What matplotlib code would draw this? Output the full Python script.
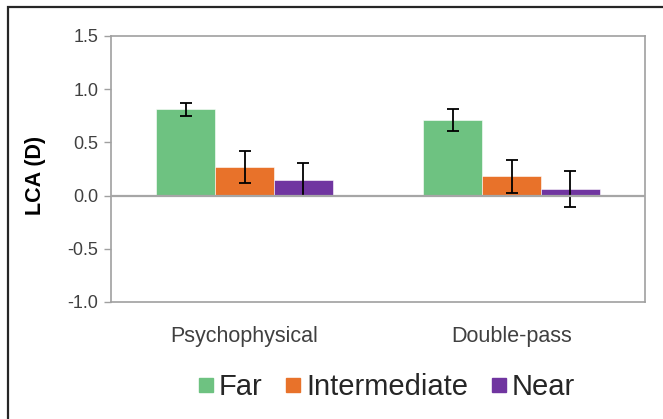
import matplotlib
matplotlib.use("Agg")
import matplotlib.pyplot as plt
from matplotlib.lines import Line2D
from matplotlib.patches import Rectangle
import numpy as np

plt.rcParams['font.family'] = ['Liberation Sans', 'DejaVu Sans']

# Data
methods = ["Psychophysical", "Double-pass"]
series = ["Far", "Intermediate", "Near"]
lca_far = [0.81, 0.71]
lca_intermediate = [0.27, 0.18]
lca_near = [0.15, 0.065]
err_far = [0.06, 0.105]
err_intermediate = [0.15, 0.155]
err_near = [0.155, 0.17]
y_ticks = [-1.0, -0.5, 0.0, 0.5, 1.0, 1.5]

colors = ["#6ec281", "#e8722a", "#7035a0"]
values = [lca_far, lca_intermediate, lca_near]
errors = [err_far, err_intermediate, err_near]

W, H = 663, 419
fig = plt.figure(figsize=(W / 100, H / 100), dpi=100)

# outer chart frame
fig.patches.append(Rectangle((8 / W, -0.05), 1.2, 1 - 7 / H + 0.05,
                             transform=fig.transFigure, fill=False,
                             edgecolor="#262626", linewidth=1.6, zorder=0))

ax = fig.add_axes([111 / W, 1 - 302 / H, 534 / W, 266 / H])

x = np.arange(len(methods))
bw = 0.22
for i, (vals, errs, c) in enumerate(zip(values, errors, colors)):
    ax.bar(x + (i - 1) * bw, vals, width=bw, color=c, edgecolor="white",
           linewidth=0.4, zorder=2)
    ax.errorbar(x + (i - 1) * bw, vals, yerr=errs, fmt="none", ecolor="black",
                elinewidth=1.3, capsize=4.5, capthick=1.3, zorder=3)

ax.axhline(0, color="#a6a6a6", linewidth=1.6, zorder=4)

ax.set_xlim(-0.5, 1.5)
ax.set_ylim(-1.0, 1.5)
ax.set_yticks(y_ticks)
ax.set_yticklabels([f"{t:.1f}" for t in y_ticks], fontsize=13, color="#404040")
ax.set_xticks(x)
ax.set_xticklabels(methods, fontsize=15.5, color="#404040")
ax.tick_params(axis="x", length=0, pad=17)
ax.tick_params(axis="y", length=5, width=1, color="#a0a0a0", pad=4)
for s in ax.spines.values():
    s.set_color("#a0a0a0")
    s.set_linewidth(1.2)

fig.text(36 / W, 1 - 175 / H, "LCA (D)", rotation=90, fontsize=15.5,
         fontweight="bold", ha="center", va="center", color="black")

handles = [Line2D([], [], marker="s", linestyle="none", markersize=10,
                  markerfacecolor=c, markeredgecolor=c) for c in colors]
fig.legend(handles, series, loc="center", bbox_to_anchor=(386 / W, 1 - 387 / H),
           ncol=3, frameon=False, fontsize=21, handlelength=0.6,
           handletextpad=0.15, columnspacing=0.75, labelcolor="#262626",
           borderpad=0, borderaxespad=0)

fig.savefig("out.png", dpi=100, facecolor="white")
